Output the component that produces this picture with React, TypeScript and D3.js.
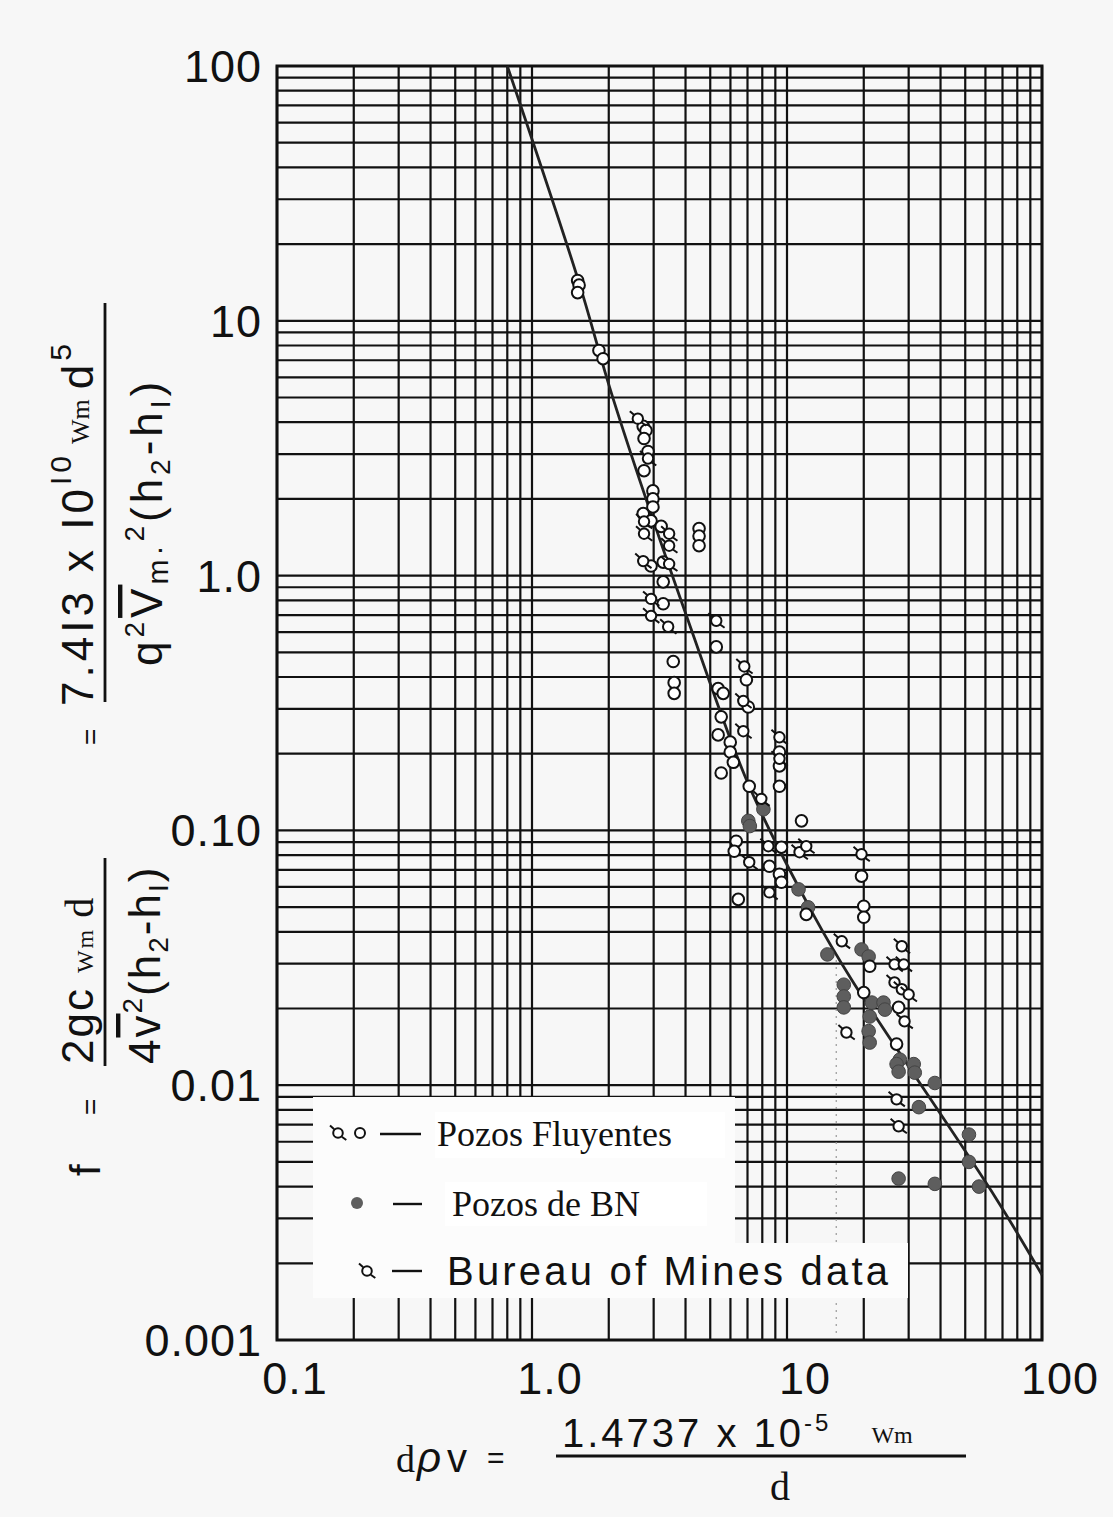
import * as d3 from "d3";
import React, { useEffect, useRef } from "react";

// axis ticks
const xTickValues = [0.1, 1, 10, 100];
const xTickLabels = ["0.1", "1.0", "10", "100"];
const yTickValues = [100, 10, 1, 0.1, 0.01, 0.001];
const yTickLabels = ["100", "10", "1.0", "0.10", "0.01", "0.001"];

// correlation curve [dpv, f]
const curve = [
  [0.8, 100], [1.52, 14.4], [2.08, 4.95], [4.2, 0.62], [7.11, 0.149],
  [12.8, 0.046], [17.9, 0.026], [65.4, 0.00365], [100, 0.0018],
];

// Pozos Fluyentes (open circles)
const fluyentes = [
  [1.51, 14.4], [1.53, 13.8], [1.51, 12.9], [1.83, 7.65], [1.9, 7.1],
  [2.73, 3.85], [2.8, 3.71], [2.75, 3.45], [2.85, 3.07], [2.75, 2.58],
  [2.98, 2.15], [2.98, 2.0], [2.98, 1.86], [2.73, 1.75], [2.93, 1.64],
  [3.21, 1.56], [2.93, 1.09], [3.27, 1.13], [3.27, 0.945], [3.27, 0.775],
  [3.58, 0.46], [3.61, 0.38], [3.61, 0.345], [4.52, 1.53], [4.52, 1.43],
  [4.52, 1.31], [5.28, 0.525], [6.93, 0.39], [5.37, 0.36], [5.62, 0.345],
  [7.05, 0.305], [5.52, 0.279], [5.37, 0.237], [5.99, 0.222], [5.99, 0.203],
  [6.16, 0.185], [5.52, 0.168], [9.34, 0.203], [9.34, 0.179], [9.34, 0.149],
  [7.11, 0.149], [11.4, 0.109], [6.32, 0.0907], [6.21, 0.0828], [9.51, 0.0859],
  [8.53, 0.0723], [9.34, 0.0673], [9.51, 0.0626], [6.44, 0.0536], [11.9, 0.0468],
  [19.6, 0.0661], [20.0, 0.0504], [20.0, 0.0456], [21.1, 0.0293], [20.0, 0.0231],
  [27.4, 0.0202], [26.9, 0.0145],
];

// Pozos de BN (filled)
const bn = [
  [8.08, 0.121], [7.05, 0.109], [7.15, 0.104], [11.1, 0.0587], [12.1, 0.0499],
  [14.4, 0.0326], [19.6, 0.0341], [20.9, 0.032], [16.7, 0.0248], [16.7, 0.0223],
  [16.7, 0.0202], [21.5, 0.0211], [23.9, 0.0211], [24.2, 0.0198], [21.1, 0.0186],
  [20.9, 0.0163], [21.1, 0.0147], [27.7, 0.0126], [26.9, 0.0121], [27.4, 0.0113],
  [31.4, 0.0121], [31.7, 0.0112], [38.0, 0.0102], [32.9, 0.0082], [51.7, 0.0064],
  [51.7, 0.005], [27.4, 0.0043], [38.0, 0.0041], [56.6, 0.004],
];

// Bureau of Mines data
const bureau = [
  [2.6, 4.13], [2.85, 2.88], [2.75, 1.63], [3.45, 1.46], [2.75, 1.46],
  [3.45, 1.31], [2.73, 1.14], [3.45, 1.11], [2.93, 0.81], [2.93, 0.695],
  [3.42, 0.63], [5.28, 0.665], [6.8, 0.44], [6.74, 0.322], [6.74, 0.245],
  [9.34, 0.232], [9.34, 0.191], [7.93, 0.133], [7.11, 0.075], [8.45, 0.0867],
  [11.2, 0.0821], [11.9, 0.0867], [8.53, 0.0571], [19.6, 0.0806], [16.4, 0.0367],
  [28.2, 0.0351], [26.4, 0.0298], [28.7, 0.0298], [26.4, 0.0253], [28.2, 0.0238],
  [30.0, 0.0227], [28.9, 0.0178], [17.1, 0.0161], [26.9, 0.0088], [27.4, 0.0069],
];

const W = 1113;
const H = 1517;
const ink = "#111";
const sans = "'Liberation Sans', Arial, sans-serif";
const serif = "'Liberation Serif', 'Times New Roman', serif";

const bureauTail = "M-3.8,-3.8 L-8,-7.5 M3.8,3.8 L8.3,7";

const App = () => {
  const node = useRef(null);
  useEffect(() => {
    const svg = d3.select(node.current);
    svg.selectAll("*").remove();
    const left = 277, right = 1042, top = 66, bottom = 1340;
    const x = d3.scaleLog().domain([0.1, 100]).range([left, right]);
    const y = d3.scaleLog().domain([0.001, 100]).range([bottom, top]);

    svg.append("rect").attr("width", W).attr("height", H).attr("fill", "#f7f7f7");

    // grid
    const grid = svg.append("g").attr("stroke", ink).attr("stroke-width", 2.2);
    grid.selectAll("line.v").data(x.ticks()).join("line")
      .attr("x1", (d) => x(d)).attr("x2", (d) => x(d))
      .attr("y1", top).attr("y2", bottom);
    grid.selectAll("line.h").data(y.ticks()).join("line")
      .attr("class", "h")
      .attr("x1", left).attr("x2", right)
      .attr("y1", (d) => y(d)).attr("y2", (d) => y(d));

    // faint dotted trace
    svg.append("line")
      .attr("x1", x(15.6)).attr("x2", x(15.6))
      .attr("y1", y(0.033)).attr("y2", bottom - 4)
      .attr("stroke", "#999").attr("stroke-width", 1.2)
      .attr("stroke-dasharray", "2,5");

    // legend boxes hide the grid
    svg.append("rect").attr("x", 313).attr("y", 1097)
      .attr("width", 422).attr("height", 201).attr("fill", "#fcfcfc");
    svg.append("rect").attr("x", 735).attr("y", 1243)
      .attr("width", 173).attr("height", 55).attr("fill", "#fcfcfc");

    svg.append("rect")
      .attr("x", left).attr("y", top)
      .attr("width", right - left).attr("height", bottom - top)
      .attr("fill", "none").attr("stroke", ink).attr("stroke-width", 3);

    // curve
    svg.append("path")
      .datum(curve)
      .attr("fill", "none").attr("stroke", "#222").attr("stroke-width", 2.8)
      .attr("d", d3.line().x((d) => x(d[0])).y((d) => y(d[1])).curve(d3.curveCatmullRom.alpha(0.5)));

    // points
    svg.append("g").selectAll("circle").data(bn).join("circle")
      .attr("cx", (d) => x(d[0])).attr("cy", (d) => y(d[1])).attr("r", 6.8)
      .attr("fill", "#5e5e5e").attr("stroke", "#444").attr("stroke-width", 1);
    svg.append("g").selectAll("circle").data(fluyentes).join("circle")
      .attr("cx", (d) => x(d[0])).attr("cy", (d) => y(d[1])).attr("r", 5.8)
      .attr("fill", "#fff").attr("stroke", ink).attr("stroke-width", 2);
    const bm = svg.append("g").selectAll("g").data(bureau).join("g")
      .attr("transform", (d) => `translate(${x(d[0])},${y(d[1])})`);
    bm.append("circle").attr("r", 5.2).attr("fill", "#fff")
      .attr("stroke", ink).attr("stroke-width", 2);
    bm.append("path").attr("d", bureauTail).attr("stroke", ink).attr("stroke-width", 2);

    // tick labels
    svg.append("g").selectAll("text").data(yTickValues).join("text")
      .attr("x", 262).attr("y", (d) => y(d) + 16)
      .attr("text-anchor", "end").attr("font-family", sans).attr("font-size", 45)
      .attr("letter-spacing", 1).attr("fill", ink).text((d, i) => yTickLabels[i]);
    svg.append("g").selectAll("text").data(xTickValues).join("text")
      .attr("x", (d) => x(d) + 18).attr("y", 1394)
      .attr("text-anchor", "middle").attr("font-family", sans).attr("font-size", 45)
      .attr("letter-spacing", 1).attr("fill", ink).text((d, i) => xTickLabels[i]);

    // legend
    const lg = svg.append("g");
    const b1 = lg.append("g").attr("transform", "translate(338,1133)");
    b1.append("circle").attr("r", 4.8).attr("fill", "#fff").attr("stroke", ink).attr("stroke-width", 2);
    b1.append("path").attr("d", bureauTail).attr("stroke", ink).attr("stroke-width", 2);
    lg.append("circle").attr("cx", 360).attr("cy", 1133).attr("r", 5)
      .attr("fill", "#fff").attr("stroke", ink).attr("stroke-width", 2);
    lg.append("line").attr("x1", 380).attr("x2", 421).attr("y1", 1134).attr("y2", 1134)
      .attr("stroke", ink).attr("stroke-width", 2.4);
    lg.append("rect").attr("x", 435).attr("y", 1112).attr("width", 290).attr("height", 46).attr("fill", "#fff");
    lg.append("text").attr("x", 437).attr("y", 1146).attr("font-family", serif)
      .attr("font-size", 36).attr("fill", ink).text("Pozos Fluyentes");

    lg.append("circle").attr("cx", 357).attr("cy", 1203).attr("r", 6).attr("fill", "#5e5e5e");
    lg.append("line").attr("x1", 393).attr("x2", 422).attr("y1", 1204).attr("y2", 1204)
      .attr("stroke", ink).attr("stroke-width", 2.4);
    lg.append("rect").attr("x", 445).attr("y", 1182).attr("width", 262).attr("height", 44).attr("fill", "#fff");
    lg.append("text").attr("x", 452).attr("y", 1216).attr("font-family", serif)
      .attr("font-size", 36).attr("fill", ink).text("Pozos de BN");

    const b3 = lg.append("g").attr("transform", "translate(367,1271)");
    b3.append("circle").attr("r", 4.8).attr("fill", "#fff").attr("stroke", ink).attr("stroke-width", 2);
    b3.append("path").attr("d", bureauTail).attr("stroke", ink).attr("stroke-width", 2);
    lg.append("line").attr("x1", 392).attr("x2", 422).attr("y1", 1271).attr("y2", 1271)
      .attr("stroke", ink).attr("stroke-width", 2.4);
    lg.append("text").attr("x", 447).attr("y", 1285).attr("font-family", sans)
      .attr("font-size", 40).attr("letter-spacing", 3.2).attr("fill", ink).text("Bureau of Mines data");

    // x axis title
    const xt = svg.append("g").attr("fill", ink);
    xt.append("text").attr("x", 396).attr("y", 1472).attr("font-family", serif)
      .attr("font-size", 38).text("d");
    xt.append("text").attr("x", 417).attr("y", 1472).attr("font-family", sans)
      .attr("font-size", 42).attr("font-style", "italic").text("ρ");
    xt.append("text").attr("x", 447).attr("y", 1472).attr("font-family", sans)
      .attr("font-size", 40).text("v");
    xt.append("text").attr("x", 487).attr("y", 1468).attr("font-family", sans)
      .attr("font-size", 30).text("=");
    const num = xt.append("text").attr("x", 562).attr("y", 1447).attr("font-family", sans)
      .attr("font-size", 40).attr("letter-spacing", 3);
    num.append("tspan").text("1.4737 x 10");
    num.append("tspan").attr("dy", -16).attr("font-size", 24).text("-5");
    num.append("tspan").attr("dx", 40).attr("dy", 12).attr("font-family", serif)
      .attr("font-size", 24).attr("letter-spacing", 0).text("Wm");
    xt.append("line").attr("x1", 556).attr("x2", 966).attr("y1", 1456).attr("y2", 1456)
      .attr("stroke", ink).attr("stroke-width", 2.8);
    xt.append("text").attr("x", 780).attr("y", 1500).attr("text-anchor", "middle")
      .attr("font-family", serif).attr("font-size", 40).text("d");

    // y axis title, rotated: local (lx, ly) = (-screenY, screenX)
    const yt = svg.append("g").attr("transform", "rotate(-90)").attr("fill", ink);
    yt.append("text").attr("x", -1176).attr("y", 100).attr("font-family", sans)
      .attr("font-size", 42).text("f");
    yt.append("text").attr("x", -1115).attr("y", 100).attr("font-family", sans)
      .attr("font-size", 28).text("=");
    const n1 = yt.append("text").attr("x", -1064).attr("y", 93).attr("font-family", sans)
      .attr("font-size", 44).attr("letter-spacing", 2);
    n1.append("tspan").text("2gc");
    n1.append("tspan").attr("dx", 14).attr("font-family", serif).attr("font-size", 24).text("Wm");
    n1.append("tspan").attr("dx", 10).attr("font-family", serif).attr("font-size", 40).text("d");
    yt.append("line").attr("x1", -1066).attr("x2", -858).attr("y1", 105).attr("y2", 105)
      .attr("stroke", ink).attr("stroke-width", 2.8);
    const d1 = yt.append("text").attr("x", -1064).attr("y", 160).attr("font-family", sans)
      .attr("font-size", 44).attr("letter-spacing", 2);
    d1.append("tspan").text("4");
    d1.append("tspan").attr("text-decoration", "overline").text("v");
    d1.append("tspan").attr("dy", -18).attr("font-size", 28).text("2");
    d1.append("tspan").attr("dy", 18).text("(h");
    d1.append("tspan").attr("dy", 8).attr("font-size", 28).text("2");
    d1.append("tspan").attr("dy", -8).text("-h");
    d1.append("tspan").attr("dy", 8).attr("font-size", 28).text("I");
    d1.append("tspan").attr("dy", -8).text(")");
    yt.append("text").attr("x", -745).attr("y", 100).attr("font-family", sans)
      .attr("font-size", 28).text("=");
    const n2 = yt.append("text").attr("x", -706).attr("y", 93).attr("font-family", sans)
      .attr("font-size", 44).attr("letter-spacing", 4);
    n2.append("tspan").text("7.4I3 x I0");
    n2.append("tspan").attr("dy", -22).attr("font-size", 30).text("I0");
    n2.append("tspan").attr("dx", 8).attr("dy", 18).attr("font-family", serif)
      .attr("font-size", 26).attr("letter-spacing", 0).text("Wm");
    n2.append("tspan").attr("dx", 10).attr("dy", 4).text("d");
    n2.append("tspan").attr("dy", -22).attr("font-size", 30).text("5");
    yt.append("line").attr("x1", -702).attr("x2", -303).attr("y1", 105).attr("y2", 105)
      .attr("stroke", ink).attr("stroke-width", 2.8);
    const d2 = yt.append("text").attr("x", -666).attr("y", 162).attr("font-family", sans)
      .attr("font-size", 44).attr("letter-spacing", 4);
    d2.append("tspan").text("q");
    d2.append("tspan").attr("dy", -18).attr("font-size", 28).text("2");
    d2.append("tspan").attr("dy", 18).attr("text-decoration", "overline").text("V");
    d2.append("tspan").attr("dy", 6).attr("font-size", 30).text("m·");
    d2.append("tspan").attr("dy", -24).attr("font-size", 28).text("2");
    d2.append("tspan").attr("dy", 18).text("(h");
    d2.append("tspan").attr("dy", 8).attr("font-size", 28).text("2");
    d2.append("tspan").attr("dy", -8).text("-h");
    d2.append("tspan").attr("dy", 8).attr("font-size", 28).text("I");
    d2.append("tspan").attr("dy", -8).text(")");

    return () => {
      svg.selectAll("*").remove();
    };
  }, []);
  return (
    <svg
      ref={node}
      width={W}
      height={H}
      style={{ position: "absolute", left: 0, top: 0, display: "block" }}
    />
  );
};

export default App;
